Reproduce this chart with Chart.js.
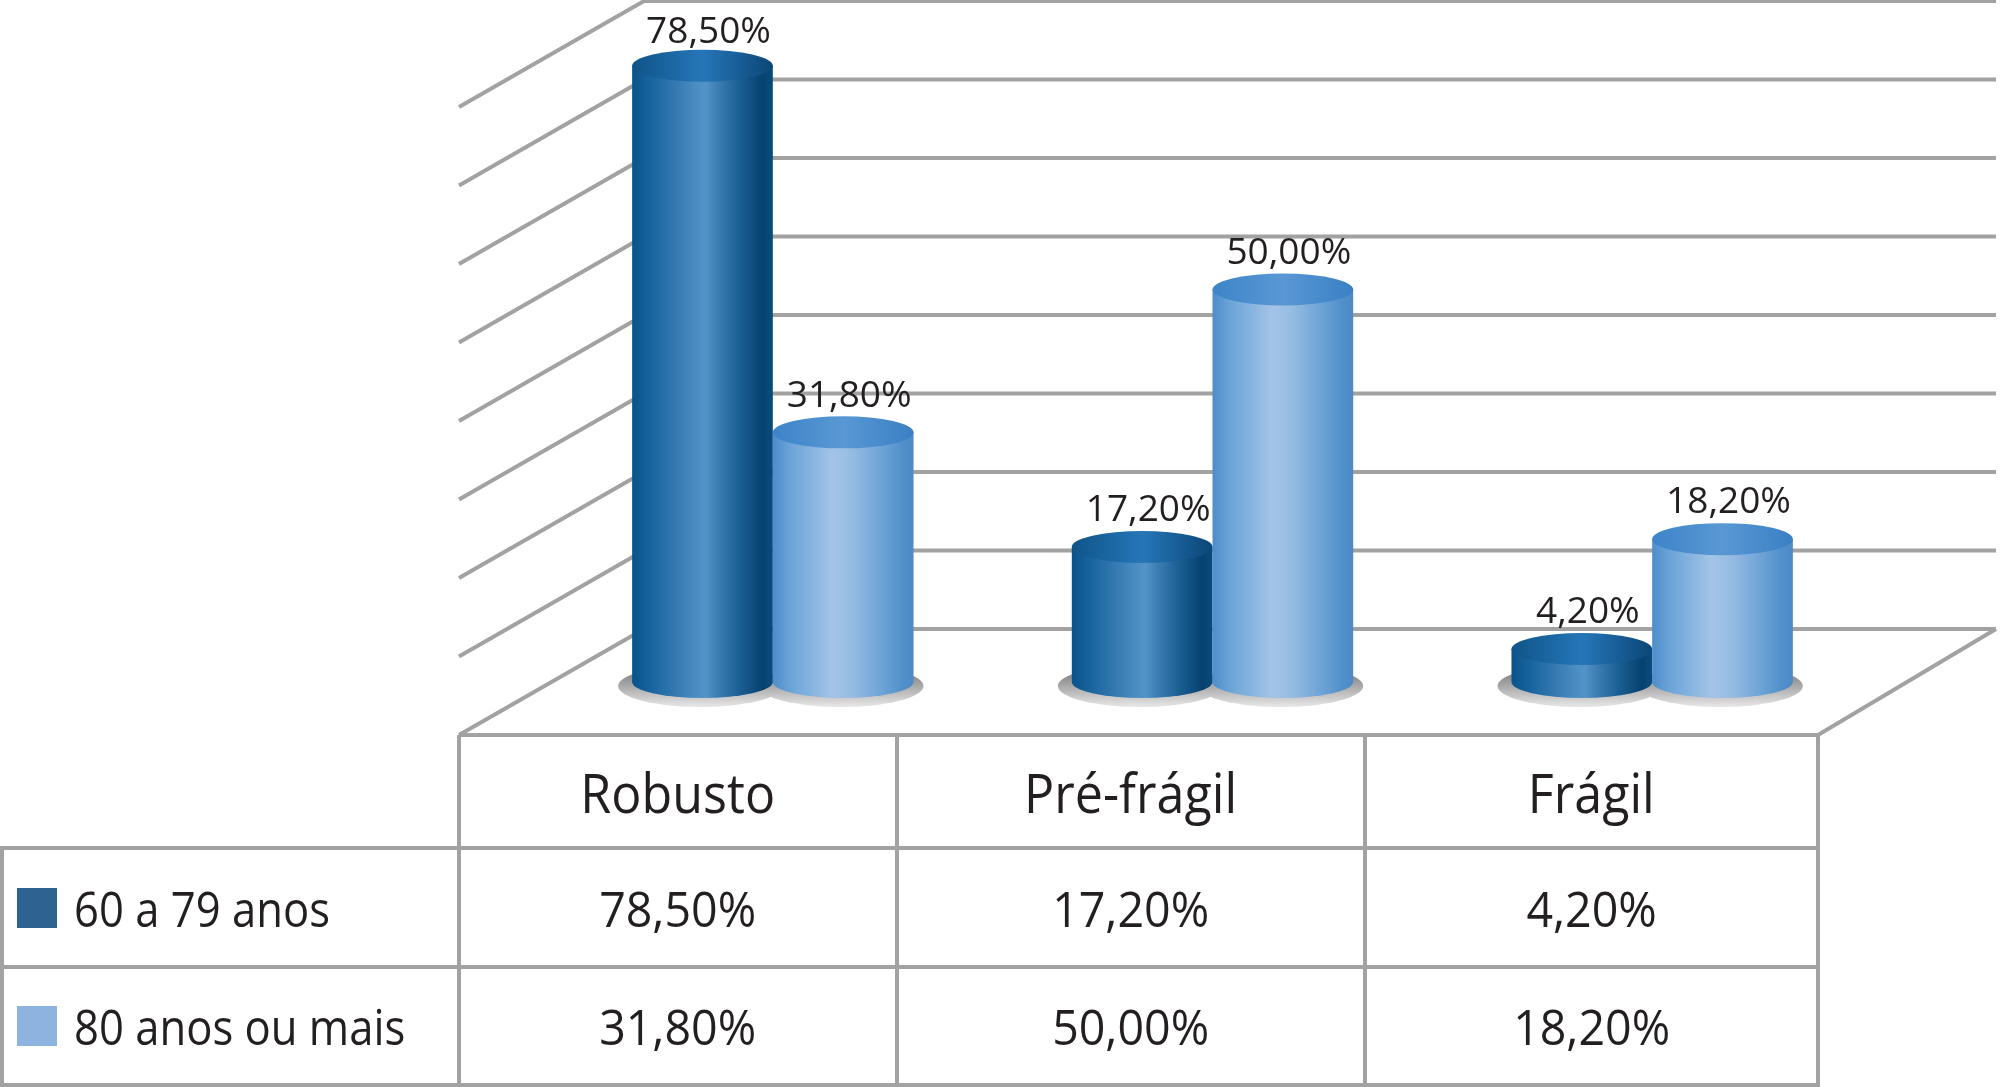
<!DOCTYPE html>
<html>
<head>
<meta charset="utf-8">
<script src="https://cdn.jsdelivr.net/npm/chart.js@4.4.1/dist/chart.umd.min.js"></script>
<style>
html,body{margin:0;padding:0;background:#fff;}
#wrap{position:relative;width:2000px;height:1087px;overflow:hidden;font-family:'Open Sans',sans-serif;color:#231f20;}
#c{position:absolute;left:0;top:0;}
#overlay{position:absolute;left:0;top:0;width:2000px;height:1087px;}
.cell{position:absolute;display:flex;align-items:center;justify-content:center;white-space:nowrap;}
.hdr span{font-size:54px;display:inline-block;transform:scaleX(0.93);}
.val span{font-size:49px;display:inline-block;transform:scaleX(0.95);}
.leg{justify-content:flex-start;}
.leg .sw{width:40px;height:40px;margin-left:15px;margin-right:17px;flex:none;}
.leg span{font-size:49px;display:inline-block;transform:scaleX(0.89);transform-origin:left center;}
.dl{position:absolute;font-size:37px;line-height:37px;white-space:nowrap;transform:translateX(-50%);color:#231f20;}
</style>
</head>
<body>
<div id="wrap">
  <canvas id="c" width="2000" height="1087"></canvas>
  <div id="overlay"></div>
  <div id="table"></div>
</div>
<script>
// ---------- data ----------
const categories = ['Robusto', 'Pré-frágil', 'Frágil'];
const seriesNames = ['60 a 79 anos', '80 anos ou mais'];
const series60a79 = [78.5, 17.2, 4.2];
const series80mais = [31.8, 50.0, 18.2];
const gridValues = [0, 10, 20, 30, 40, 50, 60, 70, 80];

const fmt = v => v.toFixed(2).replace('.', ',') + '%';

// ---------- layout ----------
const L = {
  plotLeft: 553, plotRight: 1872, plotTop: 54, plotBottom: 682,
  backDx: 91, backDy: -53, frontDx: -94, frontDy: 53,
  floorFrontRight: 1818, floorBackRight: 1996,
  tableCols: [459, 897, 1365, 1818], tableRows: [735, 848, 967, 1085], tableLeft: 2,
  ry: 16, labelGap: 10, labelMinBaseline: 43, labelDx: 6,
  lineColor: '#a2a2a2', lineWidth: 4
};

const styles = [
  { body: [[0,'#0b5289'],[0.1,'#13609a'],[0.3,'#3378b0'],[0.46,'#4b8dc3'],[0.52,'#5394c8'],[0.6,'#3e80b6'],[0.78,'#175b8f'],[0.93,'#06416f'],[1,'#0a4c7d']],
    top: [[0,'#0f5487'],[0.5,'#2676b8'],[1,'#0b4676']], legend: '#2e6391' },
  { body: [[0,'#4d8dca'],[0.12,'#6aa3d7'],[0.42,'#a3c4e7'],[0.55,'#98bde3'],[0.75,'#72a6d8'],[0.92,'#5290cb'],[1,'#4a8ac6']],
    top: [[0,'#3d84c8'],[0.5,'#5998d4'],[1,'#3980c4']], legend: '#8db3e0' }
];

function hGrad(ctx, x0, x1, stops) {
  const g = ctx.createLinearGradient(x0, 0, x1, 0);
  stops.forEach(s => g.addColorStop(s[0], s[1]));
  return g;
}

const framePlugin = {
  id: 'frame3d',
  beforeDatasetsDraw(chart) {
    const ctx = chart.ctx, y = chart.scales.y, a = chart.chartArea;
    ctx.save();
    ctx.strokeStyle = L.lineColor;
    ctx.lineWidth = L.lineWidth;
    ctx.lineCap = 'butt';
    const xF = a.left + L.frontDx, xB = a.left + L.backDx;
    gridValues.forEach(v => {
      const py = y.getPixelForValue(v);
      ctx.beginPath();
      ctx.moveTo(xF, py + L.frontDy);
      ctx.lineTo(xB, py + L.backDy);
      ctx.lineTo(L.floorBackRight, py + L.backDy);
      ctx.stroke();
    });
    const p0 = y.getPixelForValue(0);
    ctx.beginPath();
    ctx.moveTo(xF, p0 + L.frontDy);
    ctx.lineTo(L.floorFrontRight, p0 + L.frontDy);
    ctx.lineTo(L.floorBackRight, p0 + L.backDy);
    ctx.stroke();
    // table grid
    const R = L.tableRows, C = L.tableCols;
    L.tableCols.forEach(cx => {
      ctx.beginPath(); ctx.moveTo(cx, R[0]); ctx.lineTo(cx, R[3]); ctx.stroke();
    });
    ctx.beginPath(); ctx.moveTo(L.tableLeft, R[1]); ctx.lineTo(L.tableLeft, R[3]); ctx.stroke();
    [R[1], R[2], R[3]].forEach(ry => {
      ctx.beginPath(); ctx.moveTo(L.tableLeft - 2, ry); ctx.lineTo(C[3] + 2, ry); ctx.stroke();
    });
    ctx.restore();
  }
};

const cylinderPlugin = {
  id: 'cylinders',
  afterDatasetsDraw(chart) {
    const ctx = chart.ctx;
    const metas = chart.data.datasets.map((d, i) => chart.getDatasetMeta(i));
    const ry = L.ry;
    ctx.save();
    // shadows
    metas.forEach(m => m.data.forEach(el => {
      const p = el.getProps(['x','y','base','width'], true);
      const g = ctx.createLinearGradient(0, p.base - ry, 0, p.base + ry + 8);
      g.addColorStop(0, '#6e6e6e'); g.addColorStop(1, '#e4e4e4');
      ctx.fillStyle = g;
      ctx.beginPath();
      ctx.ellipse(p.x - 2, p.base + 4, p.width / 2 + 12, ry + 5, 0, 0, Math.PI * 2);
      ctx.fill();
    }));
    // cylinders
    categories.forEach((c, i) => {
      metas.forEach((m, di) => {
        const el = m.data[i];
        const p = el.getProps(['x','y','base','width'], true);
        const rx = p.width / 2, xl = p.x - rx, xr = p.x + rx;
        const st = styles[di];
        ctx.fillStyle = hGrad(ctx, xl, xr, st.body);
        ctx.beginPath();
        ctx.moveTo(xl, p.y);
        ctx.lineTo(xl, p.base);
        ctx.ellipse(p.x, p.base, rx, ry, 0, Math.PI, 0, true);
        ctx.lineTo(xr, p.y);
        ctx.closePath();
        ctx.fill();
        ctx.fillStyle = hGrad(ctx, xl, xr, st.top);
        ctx.beginPath();
        ctx.ellipse(p.x, p.y, rx, ry, 0, 0, Math.PI * 2);
        ctx.fill();
      });
    });
    ctx.restore();
  },
  afterDraw(chart) {
    const ov = document.getElementById('overlay');
    ov.innerHTML = '';
    const fs = 37;
    chart.data.datasets.forEach((ds, di) => {
      chart.getDatasetMeta(di).data.forEach((el, i) => {
        const p = el.getProps(['x','y'], true);
        const baseline = Math.max(L.labelMinBaseline, p.y - L.ry - L.labelGap);
        const d = document.createElement('div');
        d.className = 'dl';
        d.textContent = fmt(ds.data[i]);
        d.style.left = (p.x + L.labelDx) + 'px';
        d.style.top = (baseline - 0.888 * fs) + 'px';
        ov.appendChild(d);
      });
    });
  }
};

new Chart(document.getElementById('c'), {
  type: 'bar',
  data: {
    labels: categories,
    datasets: [
      { label: seriesNames[0], data: series60a79, backgroundColor: 'rgba(0,0,0,0)', borderWidth: 0, categoryPercentage: 0.64, barPercentage: 1.0 },
      { label: seriesNames[1], data: series80mais, backgroundColor: 'rgba(0,0,0,0)', borderWidth: 0, categoryPercentage: 0.64, barPercentage: 1.0 }
    ]
  },
  options: {
    responsive: false,
    animation: false,
    devicePixelRatio: 1,
    layout: { padding: { left: L.plotLeft, right: 2000 - L.plotRight, top: L.plotTop, bottom: 1087 - L.plotBottom } },
    scales: {
      x: { display: false },
      y: { display: false, min: gridValues[0], max: gridValues[gridValues.length - 1] }
    },
    plugins: { legend: { display: false }, tooltip: { enabled: false } }
  },
  plugins: [framePlugin, cylinderPlugin]
});

// ---------- data table ----------
(function buildTable() {
  const t = document.getElementById('table');
  const C = L.tableCols, R = L.tableRows;
  function cell(x0, x1, y0, y1, cls) {
    const d = document.createElement('div');
    d.className = 'cell ' + cls;
    d.style.left = x0 + 'px'; d.style.width = (x1 - x0) + 'px';
    d.style.top = y0 + 'px'; d.style.height = (y1 - y0) + 'px';
    t.appendChild(d);
    return d;
  }
  categories.forEach((c, i) => {
    const d = cell(C[i], C[i + 1], R[0], R[1], 'hdr');
    const s = document.createElement('span'); s.textContent = c; d.appendChild(s);
  });
  [series60a79, series80mais].forEach((vals, r) => {
    const lg = cell(L.tableLeft, C[0], R[r + 1], R[r + 2], 'leg');
    const sw = document.createElement('div'); sw.className = 'sw'; sw.style.background = styles[r].legend;
    lg.appendChild(sw);
    const ls = document.createElement('span'); ls.textContent = seriesNames[r]; lg.appendChild(ls);
    vals.forEach((v, i) => {
      const d = cell(C[i], C[i + 1], R[r + 1], R[r + 2], 'val');
      const s = document.createElement('span'); s.textContent = fmt(v); d.appendChild(s);
    });
  });
})();
</script>
</body>
</html>
